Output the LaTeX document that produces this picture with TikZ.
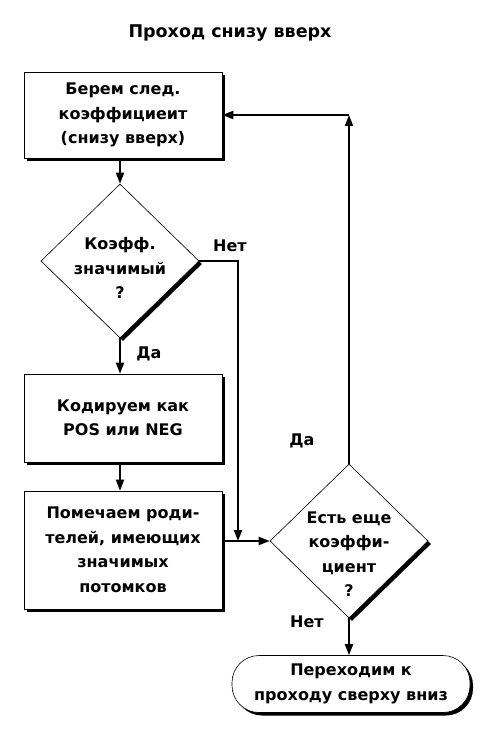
\documentclass[tikz,border=0pt]{standalone}
\usepackage{fontspec}
\setmainfont{DejaVu Sans}
\usetikzlibrary{shapes.geometric,shadows,arrows.meta}
\begin{document}
\begin{tikzpicture}[x=1pt,y=-1pt,
  txt/.style={font=\bfseries\fontsize{16}{24.5}\selectfont, align=center},
  shad/.style={drop shadow={shadow xshift=3pt, shadow yshift=-3pt, fill=black, opacity=1}},
  box/.style={txt, draw, line width=0.6pt, fill=white, shad, minimum width=198pt, inner sep=2pt},
  dec/.style={diamond, draw, line width=0.6pt, fill=white, shad, minimum width=158pt, minimum height=154pt, inner sep=0pt},
  term/.style={txt, draw, line width=0.6pt, fill=white, shad, rounded corners=27pt, minimum width=238pt, minimum height=57pt},
  lbl/.style={font=\bfseries\fontsize{16}{20}\selectfont},
  arr/.style={line width=1.8pt, -{Triangle[length=11pt,width=8pt]}}
]
\useasboundingbox (0,0) rectangle (503,738);

\node[font=\bfseries\fontsize{17.5}{20}\selectfont] (title) at (230,33) {Проход снизу вверх};

\node[box, minimum height=86pt] (b1) at (123,115) {Берем след.\\коэффициеит\\(снизу вверх)};
\node[dec] (d1) at (120,261) {};
\node[txt] (d1t) at (120,268) {Коэфф.\\значимый\\?};
\node[box, minimum height=88pt] (b3) at (123,418) {Кодируем как\\POS или NEG};
\node[box, minimum height=118pt] (b4) at (123,550) {Помечаем роди-\\телей, имеющих\\значимых\\потомков};
\node[dec] (d2) at (349,541) {};
\node[txt] (d2t) at (349,554) {Есть еще\\коэффи-\\циент\\?};
\node[term] (t) at (351,684) {Переходим к\\проходу сверху вниз};

\coordinate (j) at (238,541);
\coordinate (c1) at (349,115);

\draw[arr] (b1.south -| d1.north) -- (d1.north);
\draw[arr] (d1.south) -- (b3.north -| d1.south);
\draw[arr] (b3.south -| d1.south) -- (b4.north -| d1.south);
\draw[arr] (d1.east) -- (d1.east -| j) -- (j);
\draw[arr] (d2.west -| b4.east) -- (d2.west);
\draw[arr] (d2.north) -- (c1);
\draw[arr] (c1) -- (b1.east);
\draw[arr] (d2.south) -- (t.north -| d2.south);

\node[lbl] (l1) at (230,246) {Нет};
\node[lbl] (l2) at (149,354) {Да};
\node[lbl] (l3) at (302,441) {Да};
\node[lbl] (l4) at (307,622) {Нет};
\end{tikzpicture}
\end{document}
